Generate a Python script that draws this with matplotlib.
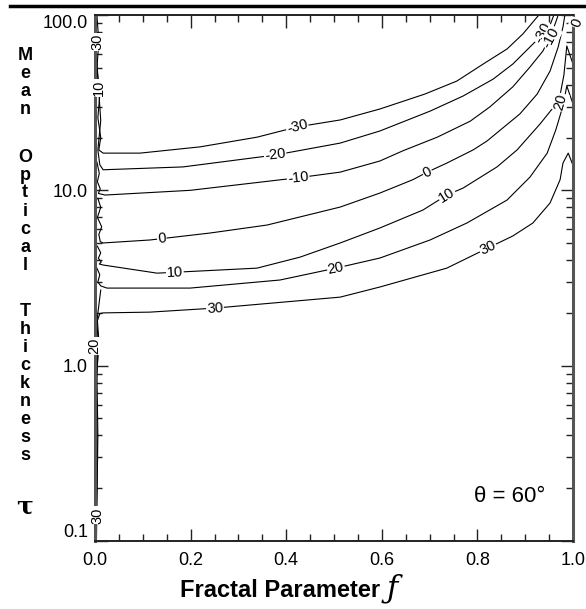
import numpy as np
import matplotlib
matplotlib.use('Agg')
import matplotlib.pyplot as plt
from matplotlib.lines import Line2D
from matplotlib.ticker import FixedLocator, FixedFormatter, MultipleLocator, LogLocator, NullFormatter

# contour levels (degrees) and curves: (f, tau)
levels = [-30, -20, -10, 0, 10, 20, 30]

f_m30 = [0.017, 0.094, 0.220, 0.339, 0.423, 0.513, 0.596, 0.690, 0.757, 0.812, 0.862, 0.895, 0.925, 0.929]
tau_m30 = [16.3, 16.3, 17.7, 20.1, 23.0, 25.2, 29.1, 35.4, 42.0, 52.5, 64.0, 77.9, 97.4, 100.0]

f_m20 = [0.017, 0.184, 0.377, 0.513, 0.596, 0.701, 0.770, 0.833, 0.874, 0.910, 0.937, 0.952, 0.960]
tau_m20 = [13.1, 13.6, 15.9, 18.6, 21.8, 28.3, 34.5, 43.1, 52.5, 65.7, 77.9, 87.7, 100.0]

f_m10 = [0.021, 0.199, 0.425, 0.513, 0.596, 0.644, 0.716, 0.785, 0.826, 0.874, 0.910, 0.937, 0.954, 0.964, 0.969]
tau_m10 = [9.40, 10.0, 11.8, 12.7, 14.7, 16.8, 20.1, 24.8, 29.9, 38.9, 50.5, 62.3, 76.9, 91.2, 100.0]

f_0 = [0.017, 0.115, 0.241, 0.360, 0.513, 0.596, 0.665, 0.695, 0.736, 0.791, 0.820, 0.889, 0.925, 0.952, 0.969, 0.979, 0.983]
tau_0 = [5.01, 5.21, 5.71, 6.34, 8.03, 9.65, 11.5, 12.7, 14.3, 17.0, 19.1, 27.3, 35.4, 47.9, 65.7, 85.4, 100.0]

f_10 = [0.017, 0.130, 0.339, 0.429, 0.513, 0.596, 0.686, 0.736, 0.770, 0.841, 0.883, 0.931, 0.958, 0.973, 0.981, 0.987, 1.0]
tau_10 = [3.75, 3.37, 3.60, 4.16, 5.01, 6.10, 7.72, 9.40, 10.3, 13.6, 17.0, 23.9, 29.5, 35.0, 45.5, 66.6, 52.5]

f_20 = [0.025, 0.199, 0.387, 0.504, 0.596, 0.701, 0.778, 0.862, 0.910, 0.946, 0.964, 0.979, 0.987, 1.0]
tau_20 = [2.77, 2.77, 3.08, 3.60, 4.11, 5.21, 6.51, 8.80, 11.9, 16.3, 22.1, 30.3, 39.4, 31.1]

f_30 = [0.017, 0.115, 0.251, 0.513, 0.596, 0.736, 0.822, 0.874, 0.916, 0.952, 0.973, 0.979, 0.990, 1.0]
tau_30 = [2.00, 2.02, 2.13, 2.46, 2.81, 3.60, 4.69, 5.49, 6.51, 8.47, 11.5, 14.3, 16.3, 13.9]

# wiggly pieces hugging the f = 0 edge
tail_f = {
    -30: [0.004, 0.008, 0.004, 0.010, 0.006, 0.012, 0.008],
    -20: [0.003, 0.007, 0.012, 0.006, 0.010],
    -10: [0.004, 0.009, 0.005, 0.011, 0.007],
    0: [0.006, 0.012, 0.005, 0.014, 0.008, 0.011],
    10: [0.005, 0.012, 0.007, 0.013, 0.009],
    20: [0.004, 0.010, 0.006, 0.012],
    30: [0.003, 0.006, 0.004, 0.008, 0.005, 0.010],
}
tail_tau = {
    -30: [100, 70, 50, 35, 26, 20, 17],
    -20: [60, 40, 25, 17, 14],
    -10: [14.5, 12.5, 11.2, 10.2, 9.6],
    0: [9.0, 8.0, 7.0, 6.2, 5.6, 5.1],
    10: [4.8, 4.4, 4.1, 3.9, 3.8],
    20: [3.6, 3.3, 3.0, 2.85],
    30: [0.1, 0.4, 0.9, 1.4, 1.8, 1.98],
}
edge_f = [0.002, 0.005, 0.003, 0.007, 0.004, 0.012]
edge_tau = [0.1, 0.3, 0.8, 1.3, 1.8, 2.7]

# inline labels: level and f position on that curve
label_level = [-30, -20, -10, 0, 10, 30, 0, 10, 20, 30]
label_f = [0.423, 0.377, 0.425, 0.140, 0.167, 0.251, 0.695, 0.736, 0.504, 0.822]

# loose labels near the plot edges
loose_text = ['-30', '-10', '0', '20', '30', '10', '20', '30']
loose_f = [0.937, 0.954, 1.008, 0.973, 0.005, 0.008, -0.002, 0.006]
loose_tau = [78.9, 73.9, 90.0, 31.9, 70.0, 38.4, 1.29, 0.14]
loose_rot = [62, 62, 70, 75, 90, 90, 90, 90]

x_ticks = [0.0, 0.2, 0.4, 0.6, 0.8, 1.0]
x_ticklabels = ['0.0', '0.2', '0.4', '0.6', '0.8', '1.0']
y_ticks = [0.1, 1.0, 10.0, 100.0]
y_ticklabels = ['0.1', '1.0', '10.0', '100.0']

curves = {
    -30: (f_m30, tau_m30), -20: (f_m20, tau_m20), -10: (f_m10, tau_m10),
    0: (f_0, tau_0), 10: (f_10, tau_10), 20: (f_20, tau_20), 30: (f_30, tau_30),
}

W, H = 586, 609
fig = plt.figure(figsize=(W / 100, H / 100), dpi=100)
ax = fig.add_axes([95 / W, 1 - 541 / H, 478 / W, 526 / H])
ax.set_yscale('log')
ax.set_xlim(0, 1)
ax.set_ylim(0.1, 100)

lw = 0.8
for lev in levels:
    f, tau = curves[lev]
    tf, tt = tail_f[lev], tail_tau[lev]
    ax.plot(tf + f, tt + tau, color='black', lw=lw, solid_joinstyle='round')
ax.plot(edge_f, edge_tau, color='black', lw=lw)

lab_font = dict(family='Liberation Sans', fontsize=10.5, color='black')
box = dict(boxstyle='square,pad=0.05', fc='white', ec='none')

for lev, fl in zip(label_level, label_f):
    f, tau = curves[lev]
    logt = np.log10(tau)
    tl = 10 ** np.interp(fl, f, logt)
    i = int(np.clip(np.searchsorted(f, fl), 1, len(f) - 1))
    p0 = ax.transData.transform((f[i - 1], tau[i - 1]))
    p1 = ax.transData.transform((f[i], tau[i]))
    ang = np.degrees(np.arctan2(p1[1] - p0[1], p1[0] - p0[0]))
    ax.text(fl, tl, str(lev), rotation=ang, rotation_mode='anchor',
            ha='center', va='center', bbox=box, zorder=4, **lab_font)

for s, fl, tl, r in zip(loose_text, loose_f, loose_tau, loose_rot):
    ax.text(fl, tl, s, rotation=r, ha='center', va='center', bbox=box,
            zorder=4, clip_on=False, **lab_font)

# axes and ticks
ax.xaxis.set_major_locator(FixedLocator(x_ticks))
ax.xaxis.set_major_formatter(FixedFormatter(x_ticklabels))
ax.xaxis.set_minor_locator(MultipleLocator(0.05))
ax.yaxis.set_major_locator(FixedLocator(y_ticks))
ax.yaxis.set_major_formatter(FixedFormatter(y_ticklabels))
ax.yaxis.set_minor_locator(LogLocator(base=10, subs=np.arange(2, 10)))
ax.yaxis.set_minor_formatter(NullFormatter())

ax.tick_params(which='both', direction='in', top=True, right=True, color='#222222')
ax.tick_params(which='major', length=9, width=1.0)
ax.tick_params(which='minor', length=5, width=1.0)
ax.tick_params(axis='x', pad=8, labelsize=13)
ax.tick_params(axis='y', pad=5, labelsize=13)
for lab in ax.get_xticklabels() + ax.get_yticklabels():
    lab.set_family('Liberation Sans')
# end labels sit just inside the axis range, as in the original
ylabs = ax.get_yticklabels()
ylabs[0].set_va('bottom')
ylabs[-1].set_va('top')

for side in ['top', 'bottom']:
    ax.spines[side].set_linewidth(1.4)
    ax.spines[side].set_color('#222222')
for side in ['left', 'right']:
    ax.spines[side].set_linewidth(2.2)
    ax.spines[side].set_color('#555555')

ax.text(0.868, 0.084, 'θ = 60°', transform=ax.transAxes, ha='center', va='center',
        fontsize=16, family='Liberation Sans')

# x label
fig.text(180 / W, 1 - 597 / H, 'Fractal Parameter', fontsize=17, fontweight='bold',
         family='Liberation Sans', ha='left', va='baseline')
fig.text(392 / W, 1 - 597 / H, 'ƒ', fontsize=22, family='DejaVu Serif',
         style='italic', ha='center', va='baseline')

# stacked y label
y = 56
for word in ['Mean', 'Optical', 'Thickness']:
    for ch in word:
        fig.text(25 / W, 1 - y / H, ch, fontsize=13, fontweight='bold',
                 family='Liberation Sans', ha='center', va='center')
        y += 18
    y += 29
fig.text(25 / W, 1 - 506 / H, 'τ', fontsize=18, fontweight='bold',
         family='DejaVu Serif', ha='center', va='center')

# dark rule across the top of the page
fig.add_artist(Line2D([10 / W, 1.0], [1 - 6 / H, 1 - 6 / H], color='black', lw=2.5))

fig.savefig('out.png', dpi=100)
